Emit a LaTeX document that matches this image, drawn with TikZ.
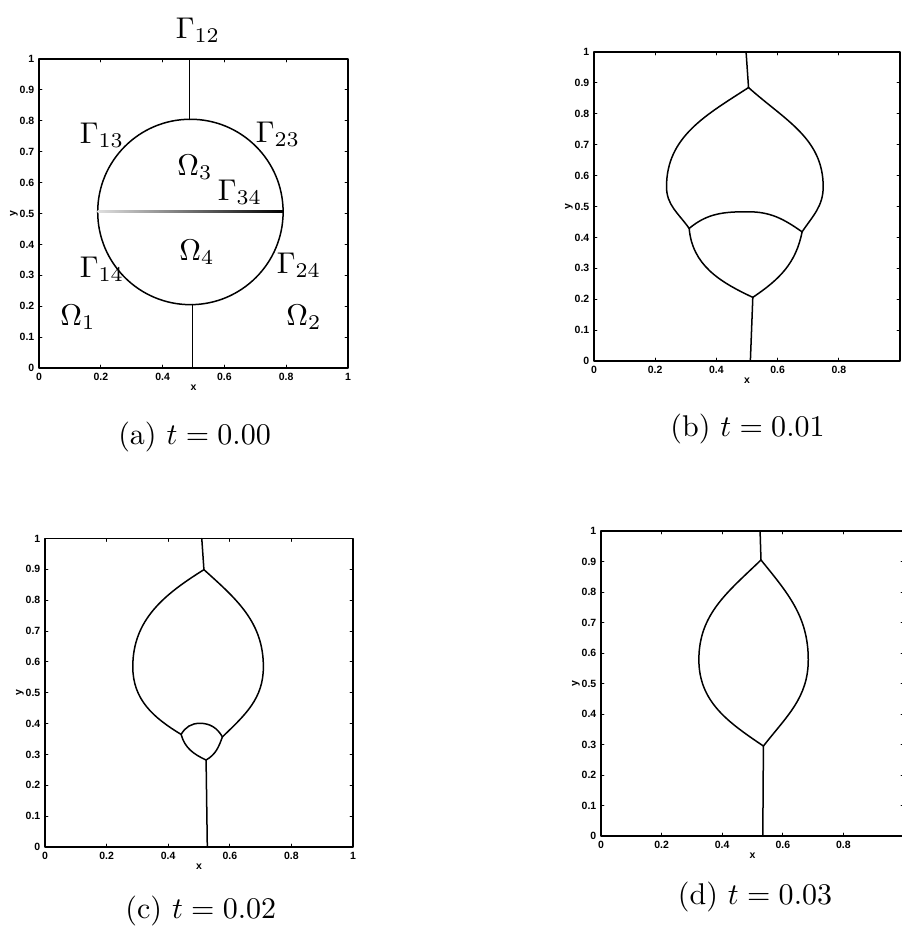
\documentclass[tikz,border=0pt]{standalone}
\usepackage{fontspec}
\newfontfamily\tickfam{Liberation Sans}
\newcommand\panelaxes[2]{%
  \draw[frame] (0,0) rectangle (1,1);
  \foreach \i in {1,...,9}{
    \draw[tick] (0,\i/10) -- ++(3pt,0pt);
    \draw[tick] (1,\i/10) -- ++(-3pt,0pt);}
  \foreach \i in {2,4,6,8}{
    \draw[tick] (\i/10,0) -- ++(0pt,3pt);
    \draw[tick] (\i/10,1) -- ++(0pt,-3pt);}
  \foreach \i/\l in {0/0,1/0.1,2/0.2,3/0.3,4/0.4,5/0.5,6/0.6,7/0.7,8/0.8,9/0.9,10/1}
    \node[ticklab, anchor=east] (#1y\i) at ([xshift=-4.5pt]0,\i/10) {\l};
  \foreach \i/\l in {#2}
    \node[ticklab] (#1x\i) at ([yshift=-9pt]\i/10,0) {\l};
  \node[ticklab] (#1xl) at ([yshift=-20pt]0.5,0) {x};
  \node[ticklab, rotate=90] (#1yl) at ([xshift=-25pt]0,0.5) {y};
}
\begin{document}
\begin{tikzpicture}[x=1pt, y=-1pt, line join=round, line cap=round,
  curve/.style={line width=1.5pt},
  frame/.style={line width=1.6pt},
  tick/.style={line width=0.9pt},
  ticklab/.style={font=\tickfam\bfseries\fontsize{10.5}{11}\selectfont, inner sep=0pt},
  biglab/.style={scale=3, inner sep=0pt, anchor=base},
  captext/.style={scale=3, inner sep=0pt}]
\useasboundingbox (0,0) rectangle (902,929);
\clip (0,0) rectangle (902,929);

% ---------- panel (a)
\begin{scope}[shift={(39,368)}, x=309pt, y=309pt]
  \panelaxes{a}{0/0,2/0.2,4/0.4,6/0.6,8/0.8,10/1}
  \draw[curve] (0.49,0.505) circle[radius=0.3];
  \draw[curve] (0.487,1) -- (0.487,0.805);
  \draw[curve] (0.497,0.205) -- (0.497,0);
  \shade[left color=gray!25, right color=black] (0.19,0.503) rectangle (0.79,0.509);
\end{scope}
\node[biglab] (g12) at (198,38) {$\Gamma_{12}$};
\node[biglab] (g13) at (102,143) {$\Gamma_{13}$};
\node[biglab] (g23) at (278,142) {$\Gamma_{23}$};
\node[biglab] (o3) at (195,175) {$\Omega_3$};
\node[biglab] (g34) at (240,200) {$\Gamma_{34}$};
\node[biglab] (o4) at (197,260) {$\Omega_4$};
\node[biglab] (g14) at (102,277) {$\Gamma_{14}$};
\node[biglab] (g24) at (299,273) {$\Gamma_{24}$};
\node[biglab] (o1) at (78,325) {$\Omega_1$};
\node[biglab] (o2) at (304,325) {$\Omega_2$};
\node[captext] (capa) at (194.5,437) {(a) $t=0.00$};

% ---------- panel (b)
\begin{scope}[shift={(594,361)}, x=306pt, y=309pt]
  \panelaxes{b}{0/0,2/0.2,4/0.4,6/0.6,8/0.8}
  \draw[curve] (0.497,1) -- (0.505,0.885);
  \draw[curve] (0.505,0.885) to[out=213,in=90] (0.237,0.564) to[out=270,in=125] (0.311,0.429);
  \draw[curve] (0.505,0.885) to[out=-42,in=90] (0.749,0.564) to[out=270,in=56] (0.68,0.418);
  \draw[curve] (0.311,0.429) to[out=40,in=180] (0.503,0.483) to[out=0,in=145] (0.68,0.418);
  \draw[curve] (0.311,0.429) to[out=275,in=155] (0.519,0.206);
  \draw[curve] (0.68,0.418) to[out=259,in=34] (0.519,0.206);
  \draw[curve] (0.519,0.206) -- (0.511,0);
\end{scope}
\node[captext] (capb) at (747.5,429) {(b) $t=0.01$};

% ---------- panel (c)
\begin{scope}[shift={(45,847)}, x=308pt, y=308.5pt]
  \panelaxes{c}{0/0,2/0.2,4/0.4,6/0.6,8/0.8,10/1}
  \draw[curve] (0.509,1) -- (0.516,0.899);
  \draw[curve] (0.516,0.899) to[out=212,in=90] (0.285,0.584) to[out=270,in=149] (0.442,0.365);
  \draw[curve] (0.516,0.899) to[out=-42,in=90] (0.709,0.584) to[out=270,in=44] (0.576,0.357);
  \draw[curve] (0.442,0.365) to[out=60,in=180] (0.503,0.401) to[out=0,in=120] (0.576,0.357);
  \draw[curve] (0.442,0.365) to[out=285,in=155] (0.523,0.282);
  \draw[curve] (0.576,0.357) to[out=250,in=30] (0.523,0.282);
  \draw[curve] (0.523,0.282) -- (0.527,0);
\end{scope}
\node[captext] (capc) at (200.8,911) {(c) $t=0.02$};

% ---------- panel (d)
\begin{scope}[shift={(601,836)}, x=303pt, y=305pt]
  \panelaxes{d}{0/0,2/0.2,4/0.4,6/0.6,8/0.8}
  \draw[curve] (0.525,1) -- (0.528,0.905);
  \draw[curve] (0.528,0.905) to[out=224,in=90] (0.323,0.578) to[out=270,in=146] (0.536,0.295);
  \draw[curve] (0.528,0.905) to[out=-51,in=90] (0.684,0.578) to[out=270,in=52] (0.536,0.295);
  \draw[curve] (0.536,0.295) -- (0.534,0);
\end{scope}
\node[captext] (capd) at (755,897) {(d) $t=0.03$};
\end{tikzpicture}
\end{document}
